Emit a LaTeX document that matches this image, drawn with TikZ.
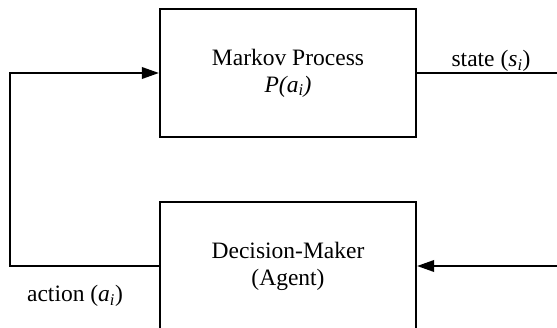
\documentclass[tikz,border=0pt]{standalone}
\usepackage{fontspec}
\setmainfont{Liberation Serif}
\usetikzlibrary{arrows.meta}
\begin{document}
\begin{tikzpicture}[x=1pt,y=1pt,
  box/.style={draw=black,line width=2.2pt,minimum width=256pt,minimum height=128pt,align=center,inner sep=0pt,
    font=\fontsize{23.5}{27}\selectfont},
  conn/.style={draw=black,line width=2pt},
  tip/.style={-{Triangle[length=17pt,width=11.5pt]}},
  lbl/.style={anchor=base,inner sep=0pt,font=\fontsize{23.5}{27}\selectfont}]
\useasboundingbox (0,0) rectangle (557,327);
\node[box] (mp) at (288,254) {Markov Process\\\textit{P(a\textsubscript{i})}};
\node[box] (dm) at (288,61) {Decision-Maker\\(Agent)};
\coordinate (tr) at (557,254);
\coordinate (br) at (557,61);
\coordinate (bl) at (10,61);
\node[lbl] (st) at (491,260.5) {state (\textit{s}\textsubscript{\textit{i}})};
\node[lbl] (ac) at (75,25.3) {action (\textit{a}\textsubscript{\textit{i}})};
\draw[conn] (mp.east) -- (tr);
\draw[conn,tip] (br) -- (dm.east);
\draw[conn,tip] (dm.west) -- (bl) |- (mp.west);
\end{tikzpicture}
\end{document}
